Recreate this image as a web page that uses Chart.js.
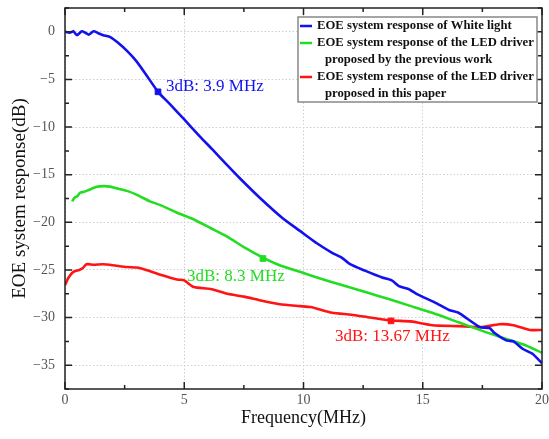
<!DOCTYPE html>
<html>
<head>
<meta charset="utf-8">
<script src="https://cdn.jsdelivr.net/npm/chart.js@4.4.1/dist/chart.umd.min.js"></script>
<style>
  html, body { margin: 0; padding: 0; background: #fff; }
</style>
</head>
<body>
<canvas id="chartEOE" width="549" height="439"></canvas>
<script>
// ---- data ----
const whiteFreq = [0, 0.2, 0.35, 0.5, 0.7, 0.85, 1.0, 1.2, 1.4, 1.6, 1.9, 2.2, 2.6, 3.0, 3.4, 3.9, 4.4, 5.0, 5.66, 6.2, 6.8, 7.34, 8.2, 9.14, 9.85, 10.56, 11.2, 11.6, 11.95, 12.6, 13.3, 13.7, 14.0, 14.4, 14.8, 15.5, 16.1, 16.5, 16.8, 17.4, 17.8, 18.0, 18.5, 18.8, 19.2, 19.6, 20];
const whiteDb   = [0, -0.1, 0.05, -0.35, 0.05, -0.1, -0.3, 0.05, -0.15, -0.35, -0.55, -1.1, -2.0, -3.1, -4.5, -6.3, -7.6, -9.2, -11.0, -12.4, -14.0, -15.4, -17.5, -19.6, -20.9, -22.2, -23.2, -23.7, -24.4, -25.1, -25.8, -26.1, -26.7, -27.0, -27.6, -28.4, -29.2, -29.5, -30.0, -31.0, -31.1, -31.6, -32.4, -32.5, -33.3, -33.8, -34.8];

const prevFreq = [0.3, 0.4, 0.5, 0.63, 0.8, 1.0, 1.3, 1.6, 1.9, 2.2, 2.6, 3.0, 3.56, 4.0, 4.7, 5.4, 6.1, 6.8, 7.5, 8.3, 9.0, 9.85, 10.7, 11.5, 12.7, 13.5, 14.5, 15.4, 16.5, 17.5, 18.3, 19.2, 20];
const prevDb   = [-17.8, -17.4, -17.3, -16.9, -16.8, -16.6, -16.3, -16.2, -16.25, -16.45, -16.7, -17.1, -17.8, -18.2, -19.0, -19.7, -20.6, -21.5, -22.6, -23.7, -24.5, -25.2, -25.9, -26.5, -27.4, -28.0, -28.8, -29.5, -30.5, -31.4, -32.1, -32.8, -33.7];

const thisFreq = [0, 0.15, 0.35, 0.6, 0.75, 0.9, 1.2, 1.6, 2.0, 2.6, 3.0, 3.4, 4.0, 4.7, 5.0, 5.4, 6.1, 6.8, 7.5, 8.2, 9.0, 9.85, 10.3, 11.2, 12.0, 12.8, 13.67, 14.5, 15.4, 16.5, 17.5, 18.2, 18.8, 19.5, 20];
const thisDb   = [-26.6, -25.8, -25.2, -25.0, -24.8, -24.4, -24.45, -24.4, -24.5, -24.7, -24.75, -25.0, -25.5, -26.0, -26.1, -26.8, -27.0, -27.5, -27.8, -28.2, -28.6, -28.8, -28.9, -29.5, -29.7, -30.0, -30.3, -30.4, -30.8, -30.9, -31.0, -30.7, -30.8, -31.3, -31.3];

// 3 dB points
const cutFreq  = [3.9, 8.3, 13.67];
const cutDb    = [-6.3, -23.8, -30.35];
const cutText  = ['3dB: 3.9 MHz', '3dB: 8.3 MHz', '3dB: 13.67 MHz'];

const xTicks = [0, 5, 10, 15, 20];
const yTicks = [0, -5, -10, -15, -20, -25, -30, -35];

const legendLines = [
    ['EOE system response of White light'],
    ['EOE system response of the LED driver', 'proposed by the previous work'],
    ['EOE system response of the LED driver', 'proposed in this paper']
];

const colors = ['#1212ee', '#22dd22', '#ff1414'];
const serif = '"Liberation Serif", "Times New Roman", serif';

function pts(xs, ys) { return xs.map((x, i) => ({ x: x, y: ys[i] })); }

// frame, inward ticks, legend and 3dB labels
const extras = {
    id: 'extras',
    afterDraw(chart) {
        const ctx = chart.ctx;
        const a = chart.chartArea;
        const sx = chart.scales.x, sy = chart.scales.y;
        ctx.save();
        ctx.strokeStyle = '#222';
        ctx.lineWidth = 1.5;
        ctx.strokeRect(a.left, a.top, a.right - a.left, a.bottom - a.top);
        ctx.beginPath();
        for (let v = 0; v <= 20; v += 2.5) {
            const px = sx.getPixelForValue(v);
            const len = v % 5 === 0 ? 7 : 4;
            ctx.moveTo(px, a.bottom); ctx.lineTo(px, a.bottom - len);
            ctx.moveTo(px, a.top); ctx.lineTo(px, a.top + len);
        }
        for (let v = -37.5; v <= 2.5; v += 2.5) {
            const py = sy.getPixelForValue(v);
            const len = v % 5 === 0 ? 7 : 4;
            ctx.moveTo(a.left, py); ctx.lineTo(a.left + len, py);
            ctx.moveTo(a.right, py); ctx.lineTo(a.right - len, py);
        }
        ctx.stroke();

        // 3dB labels
        const offs = [[8, -5], [-76, 18], [-56, 16]];
        ctx.font = '17px ' + serif;
        ctx.textBaseline = 'middle';
        ctx.textAlign = 'left';
        cutText.forEach((t, i) => {
            ctx.fillStyle = colors[i];
            const px = sx.getPixelForValue(cutFreq[i]);
            const py = sy.getPixelForValue(cutDb[i]);
            ctx.fillText(t, px + offs[i][0], py + offs[i][1]);
        });

        // legend box
        ctx.fillStyle = '#fff';
        ctx.fillRect(298, 17, 239, 85);
        ctx.strokeStyle = '#888';
        ctx.lineWidth = 1.5;
        ctx.strokeRect(298, 17, 239, 85);
        ctx.font = 'bold 12.7px ' + serif;
        ctx.fillStyle = '#111';
        let y = 26;
        legendLines.forEach((lines, i) => {
            ctx.strokeStyle = colors[i];
            ctx.lineWidth = 2.5;
            ctx.beginPath();
            ctx.moveTo(300, y); ctx.lineTo(312, y);
            ctx.stroke();
            ctx.fillText(lines[0], 317, y);
            for (let k = 1; k < lines.length; k++) {
                y += 17;
                ctx.fillText(lines[k], 325, y);
            }
            y += 17;
        });
        ctx.restore();
    }
};

new Chart(document.getElementById('chartEOE'), {
    type: 'line',
    data: {
        datasets: [
            { label: legendLines[0].join(' '), data: pts(whiteFreq, whiteDb), borderColor: colors[0] },
            { label: legendLines[1].join(' '), data: pts(prevFreq, prevDb), borderColor: colors[1] },
            { label: legendLines[2].join(' '), data: pts(thisFreq, thisDb), borderColor: colors[2] },
            {
                label: '3dB',
                data: pts(cutFreq, cutDb),
                showLine: false,
                pointStyle: 'rect',
                pointRadius: 4,
                pointBackgroundColor: colors,
                pointBorderColor: colors
            }
        ]
    },
    options: {
        responsive: false,
        devicePixelRatio: 1,
        animation: false,
        layout: { padding: { top: 8, right: 7, left: 0, bottom: 0 } },
        elements: {
            line: { borderWidth: 2.6, tension: 0.2 },
            point: { radius: 0 }
        },
        plugins: {
            legend: { display: false },
            tooltip: { enabled: false }
        },
        scales: {
            x: {
                type: 'linear',
                min: 0, max: 20,
                afterBuildTicks: s => { s.ticks = xTicks.map(v => ({ value: v })); },
                afterFit: s => { s.height = 50; s.paddingLeft = 0; s.paddingRight = 0; },
                ticks: { color: '#555', font: { family: serif, size: 14 }, padding: 3, maxRotation: 0 },
                grid: { color: '#cfcfcf', lineWidth: 1, drawTicks: false },
                border: { display: false, dash: [1.5, 2] },
                title: { display: true, text: 'Frequency(MHz)', color: '#111', font: { family: serif, size: 18 }, padding: { top: 0, bottom: 10 } }
            },
            y: {
                min: -37.5, max: 2.5,
                afterBuildTicks: s => { s.ticks = yTicks.map(v => ({ value: v })); },
                afterFit: s => { s.width = 65; s.paddingTop = 0; s.paddingBottom = 0; },
                ticks: {
                    color: '#555', font: { family: serif, size: 14 }, padding: 10,
                    callback: v => String(v).replace('-', '\u2212')
                },
                grid: { color: '#cfcfcf', lineWidth: 1, drawTicks: false },
                border: { display: false, dash: [1.5, 2] },
                title: { display: true, text: 'EOE system response(dB)', color: '#111', font: { family: serif, size: 19 }, padding: { top: 9, bottom: 0 } }
            }
        }
    },
    plugins: [extras]
});
</script>
</body>
</html>
